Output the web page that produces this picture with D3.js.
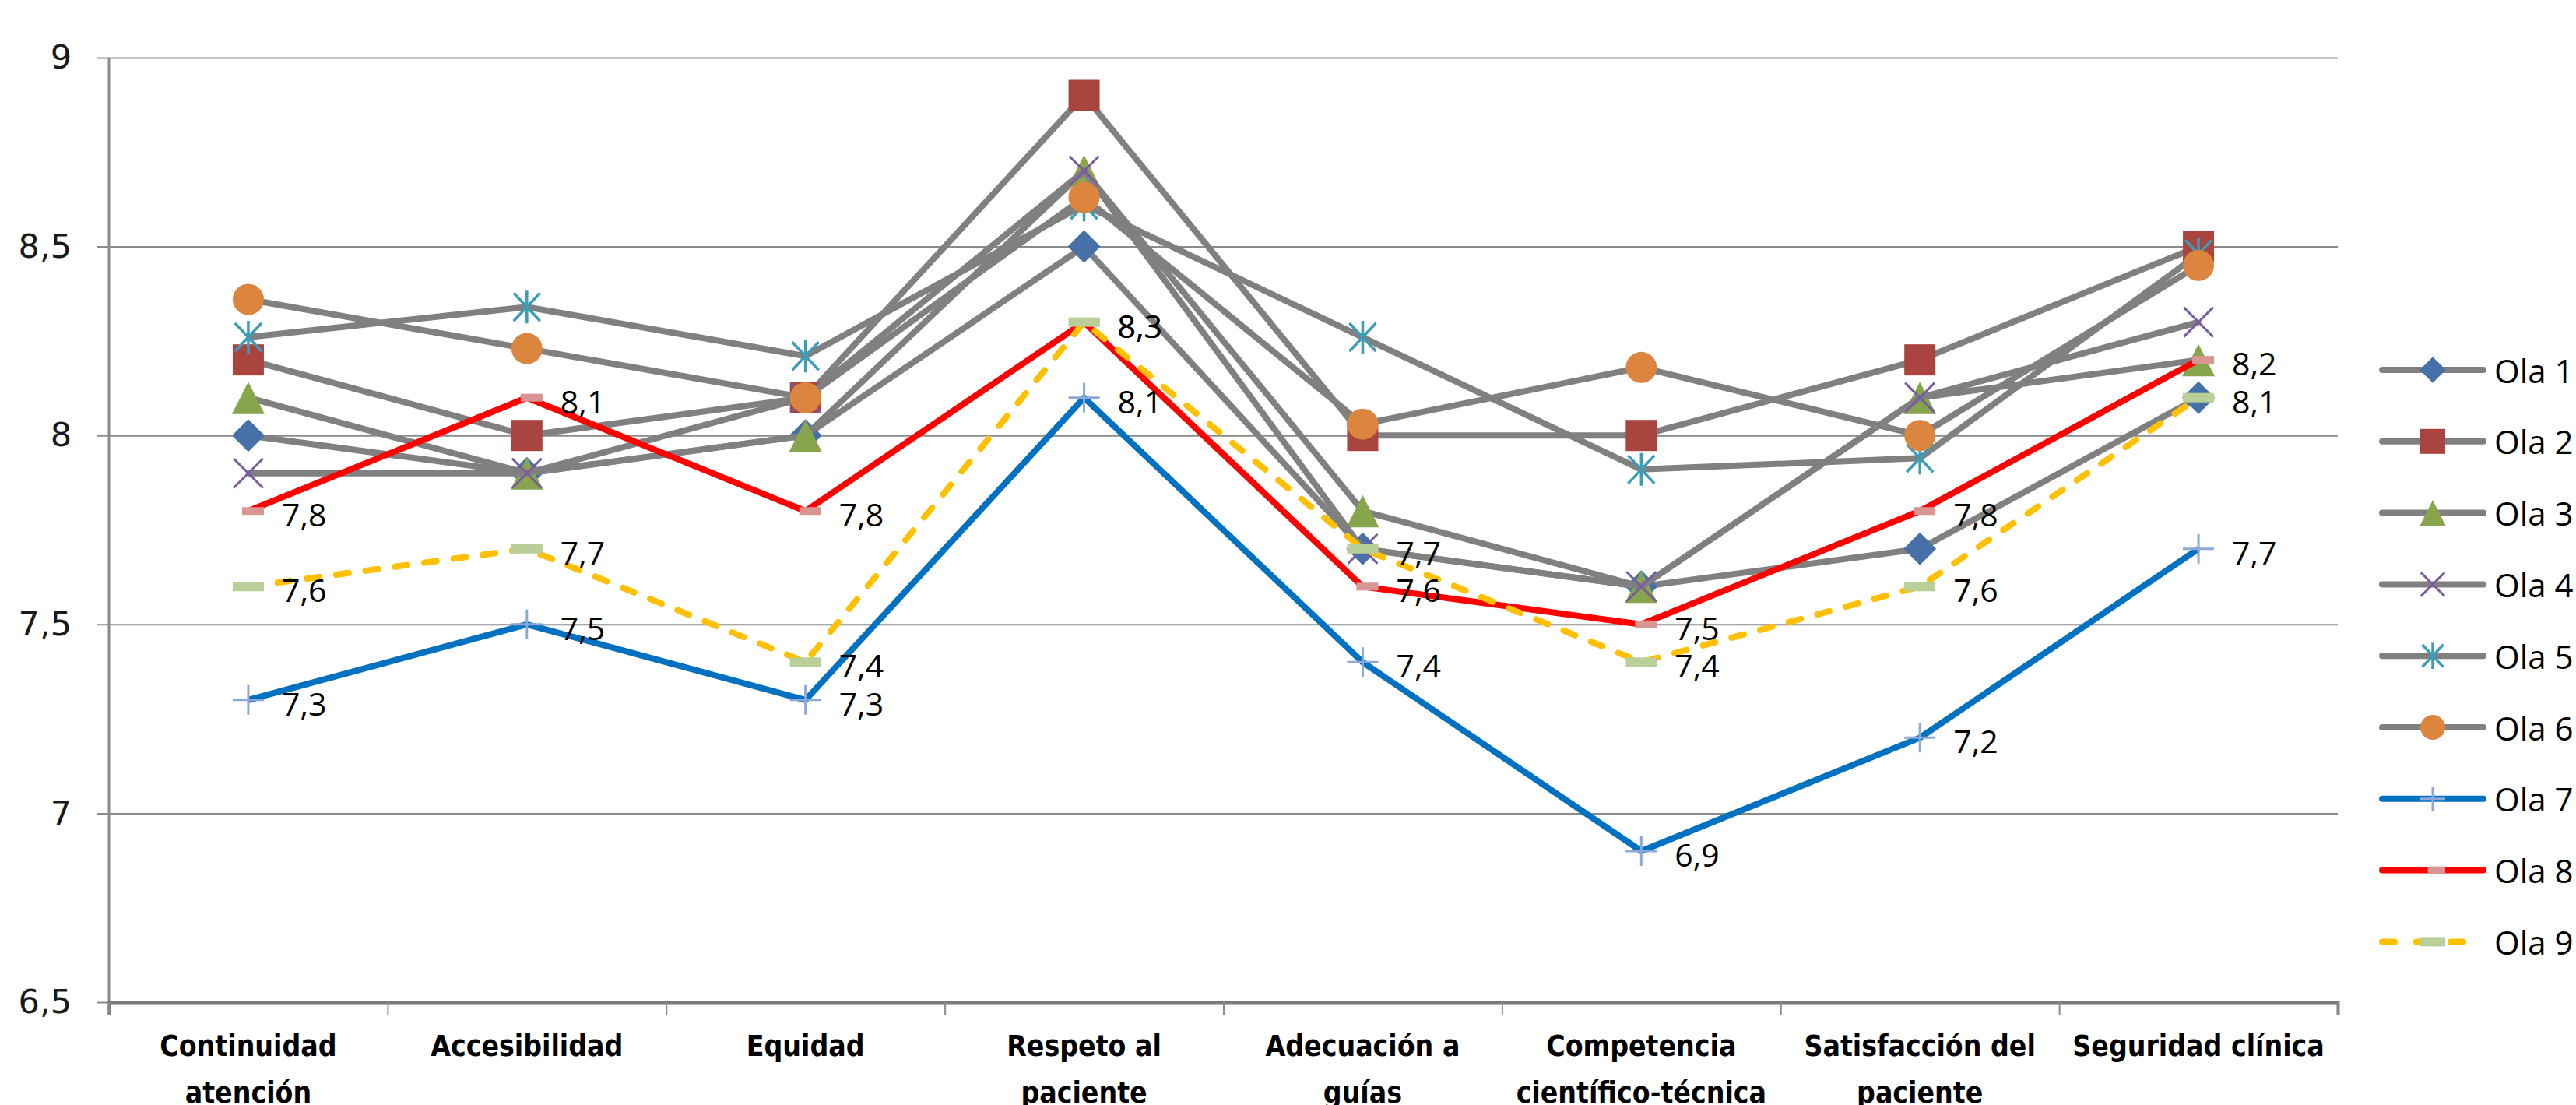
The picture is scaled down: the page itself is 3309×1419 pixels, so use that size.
<!DOCTYPE html>
<html><head><meta charset="utf-8">
<script src="https://cdn.jsdelivr.net/npm/d3@7"></script>
<style>body{margin:0;background:#fff}</style></head>
<body><svg id="c" width="3309" height="1419"></svg>
<script>
// ---------- data ----------
const categories = ["Continuidad atención","Accesibilidad","Equidad","Respeto al paciente","Adecuación a guías","Competencia científico-técnica","Satisfacción del paciente","Seguridad clínica"];
const categoryLines = [["Continuidad","atención"],["Accesibilidad"],["Equidad"],["Respeto al","paciente"],["Adecuación a","guías"],["Competencia","científico-técnica"],["Satisfacción del","paciente"],["Seguridad clínica"]];
const seriesNames = ["Ola 1","Ola 2","Ola 3","Ola 4","Ola 5","Ola 6","Ola 7","Ola 8","Ola 9"];
const ola1 = [8.0, 7.9, 8.0, 8.5, 7.7, 7.6, 7.7, 8.1];
const ola2 = [8.2, 8.0, 8.1, 8.9, 8.0, 8.0, 8.2, 8.5];
const ola3 = [8.1, 7.9, 8.0, 8.7, 7.8, 7.6, 8.1, 8.2];
const ola4 = [7.9, 7.9, 8.1, 8.7, 7.7, 7.6, 8.1, 8.3];
const ola5 = [8.26, 8.34, 8.21, 8.61, 8.26, 7.91, 7.94, 8.48];
const ola6 = [8.36, 8.23, 8.1, 8.63, 8.03, 8.18, 8.0, 8.45];
const ola7 = [7.3, 7.5, 7.3, 8.1, 7.4, 6.9, 7.2, 7.7];
const ola8 = [7.8, 8.1, 7.8, 8.3, 7.6, 7.5, 7.8, 8.2];
const ola9 = [7.6, 7.7, 7.4, 8.3, 7.7, 7.4, 7.6, 8.1];
const seriesValues = [ola1, ola2, ola3, ola4, ola5, ola6, ola7, ola8, ola9];
const labelledSeries = ["Ola 7","Ola 8","Ola 9"];
const yTicks = [6.5, 7, 7.5, 8, 8.5, 9];

// ---------- styles ----------
const GRAY = "#808080";
const styles = {
  "Ola 1": {line: GRAY, marker: "diamond", color: "#4570A8"},
  "Ola 2": {line: GRAY, marker: "square", color: "#A9443F"},
  "Ola 3": {line: GRAY, marker: "triangle", color: "#87A54C"},
  "Ola 4": {line: GRAY, marker: "x", color: "#7A5C9E"},
  "Ola 5": {line: GRAY, marker: "star", color: "#3D9DB5"},
  "Ola 6": {line: GRAY, marker: "circle", color: "#DC853F"},
  "Ola 7": {line: "#0070C0", marker: "plus", color: "#8DA8D8"},
  "Ola 8": {line: "#FF0000", marker: "dashPink", color: "#D99592"},
  "Ola 9": {line: "#FFC000", marker: "dashGreen", color: "#B8CF98", dash: "16,22"}
};
const LW = 8;

const svg = d3.select("#c");
svg.append("rect").attr("width",3309).attr("height",1419).attr("fill","#fff");

const x0 = 140, x1 = 3003, yTop = 74, yBot = 1287;
const x = d3.scaleBand().domain(categories).range([x0, x1]);
const xc = c => x(c) + x.bandwidth()/2;
const y = d3.scaleLinear().domain([6.5, 9]).range([yBot, yTop]);
const fmt = d3.formatLocale({decimal:",", thousands:".", grouping:[3], currency:["","€"]}).format(".1~f");

// gridlines + y labels
const gy = svg.append("g").attr("transform", `translate(${x1},0)`)
  .call(d3.axisLeft(y).tickValues(yTicks).tickSize(x1 - 125).tickPadding(33).tickFormat(fmt));
gy.select(".domain").remove();
gy.selectAll(".tick line").attr("stroke", "#8a8a8a").attr("stroke-width", 2);
gy.selectAll(".tick text").attr("font-family", "'DejaVu Sans', Verdana, sans-serif")
  .attr("font-size", 43).attr("fill", "#1a1a1a");

// y axis line
svg.append("line").attr("x1", x0).attr("x2", x0).attr("y1", yTop).attr("y2", yBot + 16)
  .attr("stroke", "#8a8a8a").attr("stroke-width", 3);

// x axis with boundary ticks
const xb = d3.scaleLinear().domain([0, categories.length]).range([x0, x1]);
const gx = svg.append("g").attr("transform", `translate(0,${yBot})`)
  .call(d3.axisBottom(xb).tickValues(d3.range(0, categories.length + 1)).tickSize(16).tickFormat(""));
gx.select(".domain").attr("stroke", "#7a7a7a").attr("stroke-width", 4);
gx.selectAll(".tick line").attr("stroke", "#8a8a8a").attr("stroke-width", 2);

// x labels
const xl = svg.append("g");
categories.forEach((c, i) => {
  const t = xl.append("text").attr("x", xc(c)).attr("y", 1356).attr("text-anchor", "middle")
    .attr("font-family", "'DejaVu Sans Condensed','DejaVu Sans',sans-serif").attr("font-stretch","condensed")
    .attr("font-weight", "bold").attr("font-size", 37).attr("fill", "#000");
  categoryLines[i].forEach((ln, j) => t.append("tspan").attr("x", xc(c)).attr("dy", j === 0 ? 0 : 60).text(ln));
});

// markers
function drawMarker(g, type, color, cx, cy, s) {
  s = s || 1;
  const h = 20 * s;
  switch (type) {
    case "diamond":
      g.append("path").attr("d", `M${cx},${cy - 21*s}L${cx + 21*s},${cy}L${cx},${cy + 21*s}L${cx - 21*s},${cy}Z`).attr("fill", color); break;
    case "square":
      g.append("rect").attr("x", cx - h).attr("y", cy - h).attr("width", 2*h).attr("height", 2*h).attr("fill", color); break;
    case "triangle":
      g.append("path").attr("d", `M${cx},${cy - 20.5*s}L${cx + 21*s},${cy + 21*s}L${cx - 21*s},${cy + 21*s}Z`).attr("fill", color); break;
    case "x":
      g.append("path").attr("d", `M${cx - 19*s},${cy - 19*s}L${cx + 19*s},${cy + 19*s}M${cx - 19*s},${cy + 19*s}L${cx + 19*s},${cy - 19*s}`)
        .attr("stroke", color).attr("stroke-width", 3).attr("fill", "none"); break;
    case "star":
      g.append("path").attr("d", `M${cx - 17*s},${cy - 18*s}L${cx + 17*s},${cy + 18*s}M${cx - 17*s},${cy + 18*s}L${cx + 17*s},${cy - 18*s}M${cx},${cy - 21*s}L${cx},${cy + 21*s}`)
        .attr("stroke", color).attr("stroke-width", 3.5).attr("fill", "none"); break;
    case "circle":
      g.append("ellipse").attr("cx", cx).attr("cy", cy).attr("rx", 20*s).attr("ry", 20*s).attr("fill", color); break;
    case "plus":
      g.append("path").attr("d", `M${cx - 20*s},${cy}L${cx + 20*s},${cy}M${cx},${cy - 19*s}L${cx},${cy + 19*s}`)
        .attr("stroke", color).attr("stroke-width", 3).attr("fill", "none"); break;
    case "dashPink":
      g.append("rect").attr("x", cx - 8*s).attr("y", cy - 5).attr("width", 28*s).attr("height", 10).attr("fill", color); break;
    case "dashGreen":
      g.append("rect").attr("x", cx - 20*s).attr("y", cy - 6).attr("width", 40*s).attr("height", 12).attr("fill", color); break;
  }
}

const line = d3.line().x(d => xc(d.c)).y(d => y(d.v));
const plot = svg.append("g");
seriesNames.forEach((name, si) => {
  const st = styles[name];
  const pts = categories.map((c, i) => ({c, v: seriesValues[si][i]}));
  const g = plot.append("g");
  g.append("path").attr("d", line(pts)).attr("fill", "none").attr("stroke", st.line)
    .attr("stroke-width", LW).attr("stroke-linejoin", "round")
    .attr("stroke-linecap", st.dash ? "round" : "butt")
    .attr("stroke-dasharray", st.dash || null);
  pts.forEach(p => drawMarker(g, st.marker, st.color, xc(p.c), y(p.v)));
});

// data labels
const lab = svg.append("g");
seriesNames.forEach((name, si) => {
  if (!labelledSeries.includes(name)) return;
  categories.forEach((c, i) => {
    lab.append("text").attr("x", xc(c) + 43).attr("y", y(seriesValues[si][i]) + 4)
      .attr("dominant-baseline", "central")
      .attr("font-family", "'Open Sans', sans-serif").attr("font-size", 41).attr("fill", "#000")
      .text(fmt(seriesValues[si][i]));
  });
});

// legend
const leg = svg.append("g");
seriesNames.forEach((name, i) => {
  const st = styles[name];
  const ly = 475 + i * 91.8;
  leg.append("line").attr("x1", 3060).attr("x2", 3190).attr("y1", ly).attr("y2", ly)
    .attr("stroke", st.line).attr("stroke-width", LW).attr("stroke-linecap", "round")
    .attr("stroke-dasharray", st.dash ? "16,28" : null);
  drawMarker(leg, st.marker, st.color, 3125, ly, 0.8);
  leg.append("text").attr("x", 3204).attr("y", ly).attr("dominant-baseline", "central")
    .attr("font-family", "'Open Sans', sans-serif").attr("font-size", 42).attr("fill", "#000").text(name);
});
</script></body></html>
